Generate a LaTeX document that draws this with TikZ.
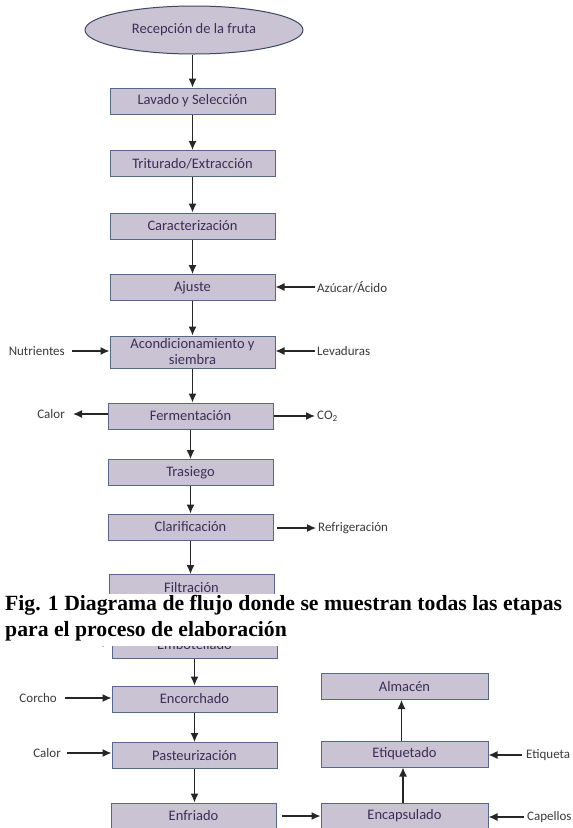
\documentclass[tikz,border=0pt]{standalone}
\usepackage{fontspec}
\setmainfont{Carlito}
\newfontfamily\capfont{Liberation Serif}
\usetikzlibrary{arrows.meta,shapes.geometric}
\definecolor{boxfill}{HTML}{CAC3D4}
\definecolor{boxdraw}{HTML}{56678A}
\definecolor{boxtext}{HTML}{3B2F55}
\definecolor{labtext}{HTML}{3A3A3A}
\tikzset{
  proc/.style={rectangle, draw=boxdraw, fill=boxfill, line width=1pt,
    minimum width=165pt, minimum height=26pt, inner sep=0pt,
    text=boxtext, font=\fontsize{14.5}{16}\selectfont, align=center},
  startnode/.style={ellipse, draw=boxdraw!70!black, fill=boxfill, line width=1pt,
    minimum width=218pt, minimum height=48pt, inner sep=0pt,
    text=boxtext, font=\fontsize{14.5}{16}\selectfont},
  lab/.style={inner sep=0pt, text=labtext, font=\fontsize{13}{14}\selectfont},
  arr/.style={-{Latex[length=9pt,width=8pt]}, line width=1.3pt, draw=black!85},
}
\begin{document}
\begin{tikzpicture}[x=1pt,y=-1pt]
\useasboundingbox[fill=white] (0,0) rectangle (573,828);

% main column
\node[startnode] (rec) at (194,30) {Recepción de la fruta};
\node[proc] (lav) at (192.5,101) {Lavado y Selección};
\node[proc] (tri) at (192.5,163.5) {Triturado/Extracción};
\node[proc] (car) at (192.5,226) {Caracterización};
\node[proc] (aju) at (192.5,287.5) {Ajuste};
\node[proc, minimum height=32pt] (aco) at (192.5,352) {\fontsize{14.5}{17}\selectfont Acondicionamiento y\\siembra};
\node[proc] (fer) at (190.5,416) {Fermentación};
\node[proc] (tra) at (190.5,472.5) {Trasiego};
\node[proc] (cla) at (190.5,527) {Clarificación};
\node[proc] (fil) at (191.5,587.5) {Filtración};
\node[proc] (emb) at (194.5,645) {Embotellado};
\node[proc] (enc) at (194.5,699) {Encorchado};
\node[proc] (pas) at (194.5,755.5) {Pasteurización};
\node[proc] (enf) at (193.5,816) {Enfriado};
% right column
\node[proc, minimum width=167pt] (alm) at (404.5,686.5) {Almacén};
\node[proc, minimum width=167pt] (eti) at (404.5,754) {Etiquetado};
\node[proc, minimum width=167pt] (ecp) at (404.5,816) {Encapsulado};

% vertical flow
\draw[arr] (lav.north |- rec.south) -- (lav.north);
\draw[arr] (lav.south) -- (tri.north);
\draw[arr] (tri.south) -- (car.north);
\draw[arr] (car.south) -- (aju.north);
\draw[arr] (aju.south) -- (aco.north);
\draw[arr] (aco.south) -- (aco.south |- fer.north);
\draw[arr] (fer.south) -- (tra.north);
\draw[arr] (tra.south) -- (cla.north);
\draw[arr] (cla.south) -- (cla.south |- fil.north);
\draw[arr] (fil.south) -- (fil.south |- emb.north);
\draw[arr] (emb.south) -- (enc.north);
\draw[arr] (enc.south) -- (pas.north);
\draw[arr] (pas.south) -- (pas.south |- enf.north);
\draw[arr] ([xshift=5pt]enf.east) -- (ecp.west);
\draw[arr] ([xshift=-1.5pt]ecp.north) -- ([xshift=-1.5pt]eti.south);
\draw[arr] ([xshift=-3pt]eti.north) -- ([xshift=-3pt]alm.south);

% side inputs / outputs
\node[lab, anchor=west] (azu) at (317,287) {Azúcar/Ácido};
\coordinate (azuc) at (315,287);
\draw[arr] (azuc) -- (aju.east |- azuc);

\node[lab, anchor=west] (lev) at (317,351) {Levaduras};
\coordinate (levc) at (315,351);
\draw[arr] (levc) -- (aco.east |- levc);

\node[lab, anchor=east] (nut) at (65,351) {Nutrientes};
\coordinate (nutc) at (72,351);
\draw[arr] (nutc) -- (aco.west |- nutc);

\node[lab, anchor=east] (cal1) at (65,414) {Calor};
\coordinate (cal1c) at (73,414);
\draw[arr] (fer.west |- cal1c) -- (cal1c);

\node[lab, anchor=west] (co2) at (317,416) {CO\textsubscript{2}};
\coordinate (co2c) at (315,416);
\draw[arr] (fer.east |- co2c) -- (co2c);

\node[lab, anchor=west] (ref) at (318,528) {Refrigeración};
\coordinate (refa) at (277,528);
\coordinate (refc) at (316,528);
\draw[arr] (refa) -- (refc);

\coordinate (botc) at (65,643);
\draw[arr] (botc) -- (emb.west |- botc);

\node[lab, anchor=east] (cor) at (57,698) {Corcho};
\coordinate (corc) at (65,698);
\draw[arr] (corc) -- (enc.west |- corc);

\node[lab, anchor=east] (cal2) at (61,753) {Calor};
\coordinate (cal2c) at (67,753);
\draw[arr] (cal2c) -- (pas.west |- cal2c);

\node[lab, anchor=west] (etl) at (526,755) {Etiqueta};
\coordinate (etlc) at (522,755);
\draw[arr] (etlc) -- (eti.east |- etlc);

\node[lab, anchor=west] (cap) at (527,817) {Capellos};
\coordinate (capc) at (524,817);
\draw[arr] (capc) -- (ecp.east |- capc);

% caption overlay
\fill[white] (0,594) rectangle (573,645.5);
\node[anchor=base west, inner sep=0pt, font=\capfont\bfseries\fontsize{21.7}{24}\selectfont] (cap1) at (5,610.5) {Fig. 1 Diagrama de flujo donde se muestran todas las etapas};
\node[anchor=base west, inner sep=0pt, font=\capfont\bfseries\fontsize{21.7}{24}\selectfont] (cap2) at (5,636.5) {para el proceso de elaboración};
\end{tikzpicture}
\end{document}
